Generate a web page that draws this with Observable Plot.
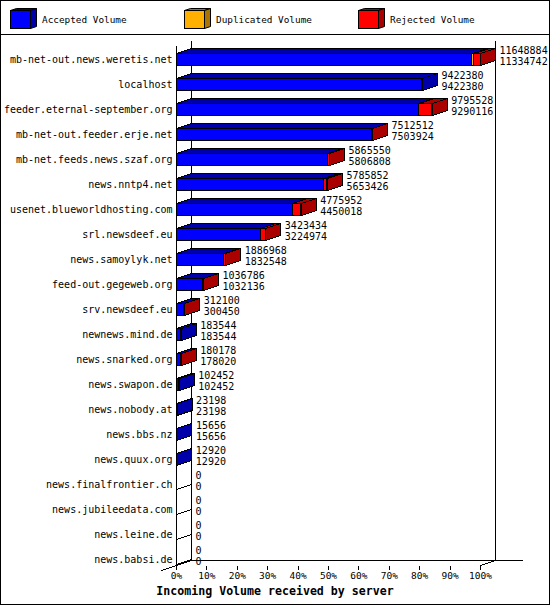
<!DOCTYPE html>
<html><head><meta charset="utf-8">
<script src="https://cdn.jsdelivr.net/npm/d3@7"></script>
<script src="https://cdn.jsdelivr.net/npm/@observablehq/plot@0.6"></script>
<style>
html,body{margin:0;padding:0;background:#fff;}
#wrap{width:550px;height:605px;box-sizing:border-box;border:1px solid #000;overflow:hidden;background:#fff;}
#legend{height:33px;border-bottom:1px solid #000;}
#legend svg,#chart svg{display:block;}
#caption{height:20px;line-height:18px;text-align:center;font:bold 11.6px "DejaVu Sans Mono",monospace;color:#000;}
</style></head><body>
<div id="wrap"><div id="legend"></div><div id="chart"></div><div id="caption"></div></div>
<script>
const hosts = [
  "mb-net-out.news.weretis.net","localhost","feeder.eternal-september.org",
  "mb-net-out.feeder.erje.net","mb-net.feeds.news.szaf.org","news.nntp4.net",
  "usenet.blueworldhosting.com","srl.newsdeef.eu","news.samoylyk.net",
  "feed-out.gegeweb.org","srv.newsdeef.eu","newnews.mind.de","news.snarked.org",
  "news.swapon.de","news.nobody.at","news.bbs.nz","news.quux.org",
  "news.finalfrontier.ch","news.jubileedata.com","news.leine.de","news.babsi.de"
];
const totalVolume = [11648884,9422380,9795528,7512512,5865550,5785852,4775952,3423434,1886968,1036786,312100,183544,180178,102452,23198,15656,12920,0,0,0,0];
const acceptedVolume = [11334742,9422380,9290116,7503924,5806808,5653426,4450018,3224974,1832548,1032136,300450,183544,178020,102452,23198,15656,12920,0,0,0,0];
const duplicatedVolume = [75000,0,0,0,0,0,0,0,0,0,0,0,0,0,0,0,0,0,0,0,0];
const rejectedVolume = [239142,0,505412,8588,58742,132426,325934,198460,54420,4650,11650,0,2158,0,0,0,0,0,0,0,0];
const seriesNames = ["Accepted Volume","Duplicated Volume","Rejected Volume"];
const frontColors = ["#0000ff","#ffb000","#ff0000"];
const darkColors = ["#0000aa","#aa7500","#aa0000"];
const xTicks = [0,10,20,30,40,50,60,70,80,90,100];
const captionText = "Incoming Volume received by server";

const MONO = '"DejaVu Sans Mono", "Liberation Mono", monospace';
const maxTotal = d3.max(totalVolume);
const pct = v => v / maxTotal * 100;

const rows = hosts.map((h, i) => ({host: h, total: totalVolume[i], accepted: acceptedVolume[i], pct: pct(totalVolume[i])}));
const segments = [];
hosts.forEach((h, i) => {
  let acc = 0;
  [acceptedVolume[i], duplicatedVolume[i], rejectedVolume[i]].forEach((v, k) => {
    if (v > 0) {
      segments.push({host: h, series: seriesNames[k], k, x0: pct(acc), x1: pct(acc + v)});
      acc += v;
    }
  });
});

// ---- Legend (3D cubes) ----
{
  const lg = d3.select("#legend").append("svg").attr("width", 548).attr("height", 33);
  const xs = [9, 183, 357];
  seriesNames.forEach((name, k) => {
    const g = lg.append("g").attr("transform", `translate(${xs[k] + 0.5},9.5)`)
      .attr("stroke", "#000").attr("stroke-width", 1);
    g.append("path").attr("fill", darkColors[k]).attr("d", "M0,0L6,-2L26,-2L20,0Z");
    g.append("path").attr("fill", darkColors[k]).attr("d", "M20,0L26,-2L26,16L20,18Z");
    g.append("rect").attr("fill", frontColors[k]).attr("x", 0).attr("y", 0).attr("width", 20).attr("height", 18);
    lg.append("text").attr("x", xs[k] + 32).attr("y", 19).attr("dy", "0.35em")
      .attr("font-family", MONO).attr("font-size", 9.4).attr("fill", "#000").text(name);
  });
}

// ---- 3D faces & frame, drawn from Plot's scales ----
function faces3d(index, scales) {
  const {x, y} = scales;
  const bw = typeof y.bandwidth === "function" ? y.bandwidth() : (y.bandwidth ?? 25);
  const cy = h => y(h) + bw / 2;
  const DX = 15, DY = 5, H = 6;
  const g = d3.create("svg:g").attr("transform", "translate(0.5,0.5)")
    .attr("stroke", "#000").attr("stroke-width", 1).attr("fill", "none")
    .attr("shape-rendering", "crispEdges");
  const x0 = x(0), x100 = x(100);
  const cTop = cy(hosts[0]), cBot = cy(hosts[hosts.length - 1]);
  const floorBack = cBot + H - DY, floorFront = cBot + H;
  const line = (a, b, c, d) => g.append("path").attr("fill", "none").attr("stroke", "#000").attr("d", `M${a},${b}L${c},${d}`);
  // frame
  line(x0, cTop - 14, x0, floorFront);
  line(x0 + DX, cTop - 19, x0 + DX, floorBack);
  line(x100 + DX, cTop - 19, x100 + DX, floorBack);
  line(x0 + DX, floorBack, x100 + DX + 27, floorBack);
  line(x0 - DX, floorFront + DY, x0 + DX, floorBack);
  line(x100, floorFront, x100 + DX, floorBack);
  for (const t of xTicks) line(x(t), floorFront, x(t), floorFront + 4);
  // zero rows: degenerate bar
  rows.forEach(r => {
    if (r.total === 0) {
      const c = cy(r.host);
      line(x0, c + 5, x0 + DX, c);
    }
  });
  // top faces
  segments.forEach(s => {
    const c = cy(s.host), yt = c - H, a = x(s.x0), b = x(s.x1);
    g.append("path").attr("fill", darkColors[s.k])
      .attr("d", `M${a},${yt}L${b},${yt}L${b + DX},${yt - DY}L${a + DX},${yt - DY}Z`);
  });
  // side faces (colour of last segment)
  const last = new Map();
  segments.forEach(s => last.set(s.host, s));
  last.forEach(s => {
    const c = cy(s.host), yt = c - H, yb = c + H, b = x(s.x1);
    g.append("path").attr("fill", darkColors[s.k])
      .attr("d", `M${b},${yt}L${b + DX},${yt - DY}L${b + DX},${yb - DY}L${b},${yb}Z`);
  });
  return g.node();
}

const chart = Plot.plot({
  width: 548,
  height: 549,
  marginLeft: 175,
  marginRight: 69,
  marginTop: 11.5,
  marginBottom: 12.5,
  x: {domain: [0, 100], axis: null},
  y: {type: "band", domain: hosts, padding: 0, round: false, axis: null},
  color: {domain: seriesNames, range: frontColors},
  marks: [
    faces3d,
    Plot.barX(segments, {y: "host", x1: "x0", x2: "x1", fill: "series", stroke: "#000", strokeWidth: 1, insetTop: 6.5, insetBottom: 6.5, shapeRendering: "crispEdges"}),
    Plot.text(rows, {x: () => 0, y: "host", text: "host", textAnchor: "end", dx: -4, dy: 0.5, fontFamily: MONO, fontSize: 10, fill: "#000"}),
    Plot.text(rows, {x: "pct", y: "host", text: d => String(d.total), textAnchor: "start", dx: 19, dy: -9, fontFamily: MONO, fontSize: 10, fill: "#000"}),
    Plot.text(rows, {x: "pct", y: "host", text: d => String(d.accepted), textAnchor: "start", dx: 19, dy: 2, fontFamily: MONO, fontSize: 10, fill: "#000"}),
    Plot.text(xTicks, {x: d => d, text: d => d + "%", frameAnchor: "bottom", dy: 7, fontFamily: MONO, fontSize: 9.5, fill: "#000"})
  ]
});
document.getElementById("chart").appendChild(chart);
document.getElementById("caption").textContent = captionText;
</script>
</body></html>
